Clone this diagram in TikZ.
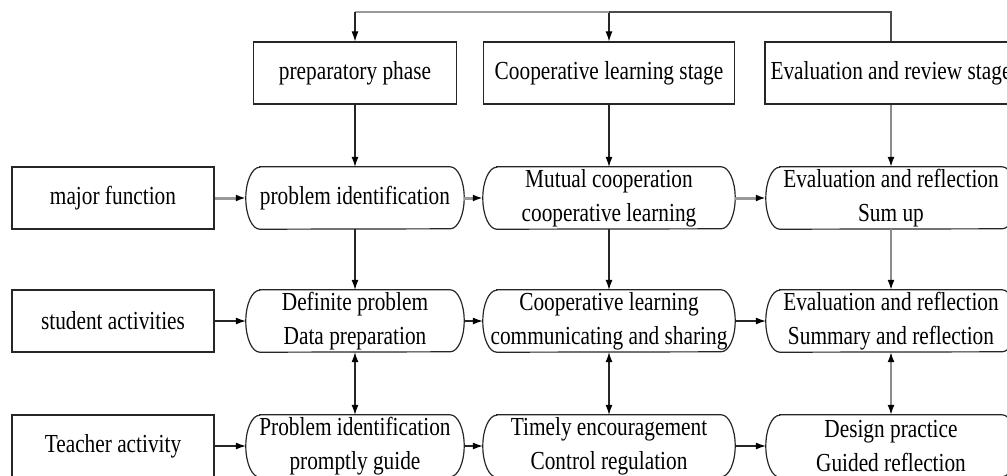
\documentclass[tikz,border=0pt]{standalone}
\usepackage{fontspec}
\setmainfont{Liberation Serif}[FakeStretch=0.82]
\usetikzlibrary{arrows.meta}

\tikzset{
  >={Latex[length=10pt,width=7pt,color=black]},
  stagebox/.style={draw=black!85, line width=1.2pt, rectangle, minimum height=62pt,
    inner sep=0pt, align=center},
  activity/.style={rectangle, minimum height=62pt, inner sep=0pt, align=center},
  link/.style={->, line width=1.1pt, draw=black!85},
  softlink/.style={->, line width=1.6pt, draw=black!45},
  widelink/.style={->, line width=3pt, draw=black!40}
}

\begin{document}
\begin{tikzpicture}[x=1pt, y=-1pt, font=\fontsize{26}{34}\selectfont]
		\useasboundingbox (0,0) rectangle (1007,475);
		\clip (0,0) rectangle (1007,475);

		% Stage headers
		\node[stagebox, minimum width=203pt] (prep) at (355,73) {preparatory phase};
		\node[stagebox, minimum width=251pt] (coop) at (609,73) {Cooperative learning stage};
		\node[stagebox, minimum width=252pt] (review) at (891,73) {Evaluation and review stage};

		% Row labels
		\node[stagebox, minimum width=202pt] (major) at (113,198) {major function};
		\node[stagebox, minimum width=202pt] (student) at (113,321) {student activities};
		\node[stagebox, minimum width=202pt] (teacher) at (113,446) {Teacher activity};

		% Activities, one row per label
		\node[activity, minimum width=218pt] (ident) at (355,198) {problem identification};
		\node[activity, minimum width=252pt] (mutual) at (609,198) {Mutual cooperation\\cooperative learning};
		\node[activity, minimum width=250pt] (sumup) at (891,198) {Evaluation and reflection\\Sum up};

		\node[activity, minimum width=218pt] (define) at (355,321) {Definite problem\\Data preparation};
		\node[activity, minimum width=252pt] (share) at (609,321) {Cooperative learning\\communicating and sharing};
		\node[activity, minimum width=250pt] (summary) at (891,321) {Evaluation and reflection\\Summary and reflection};

		\node[activity, minimum width=218pt] (guide) at (355,446) {Problem identification\\promptly guide};
		\node[activity, minimum width=252pt] (encourage) at (609,446) {Timely encouragement\\Control regulation};
		\node[activity, minimum width=250pt] (design) at (891,446) {Design practice\\Guided reflection};

		% Rounded frames round the activities
		\foreach \n in {ident,mutual,sumup,define,share,summary,guide,encourage,design}
		  \draw[draw=black!85, line width=1.2pt]
		    ([xshift=14pt]\n.north west) -- ([xshift=-14pt]\n.north east)
		    arc[start angle=90, end angle=-90, x radius=14pt, y radius=31pt]
		    -- ([xshift=14pt]\n.south west)
		    arc[start angle=270, end angle=90, x radius=14pt, y radius=31pt] -- cycle;

		% Feedback line over the stages
		\coordinate (topmid) at (609,12);
		\coordinate (topleft) at (355,12);
		\draw[line width=2.8pt, draw=black!70] (review.north) |- (topmid);
		\draw[link] (topmid) -- (coop.north);
		\draw[line width=2pt, draw=black!40] (topmid) -- (topleft);
		\draw[link] (topleft) -- (prep.north);

		% Stages down into the activities
		\draw[link] (prep) -- (ident);
		\draw[link] (coop) -- (mutual);
		\draw[softlink] (review) -- (sumup);
		\draw[link] (ident) -- (define);
		\draw[link] (mutual) -- (share);
		\draw[softlink] (sumup) -- (summary);
		\draw[link, <->] (define) -- (guide);
		\draw[link, <->] (share) -- (encourage);
		\draw[softlink, <->] (summary) -- (design);

		% Along the rows
		\draw[widelink] (major) -- (ident);
		\draw[widelink] (ident) -- (mutual);
		\draw[widelink] (mutual) -- (sumup);
		\draw[link] (student) -- (define);
		\draw[link] (define) -- (share);
		\draw[link] (share) -- (summary);
		\draw[link] (teacher) -- (guide);
		\draw[link] (guide) -- (encourage);
		\draw[link] (encourage) -- (design);
		\end{tikzpicture}
\end{document}
